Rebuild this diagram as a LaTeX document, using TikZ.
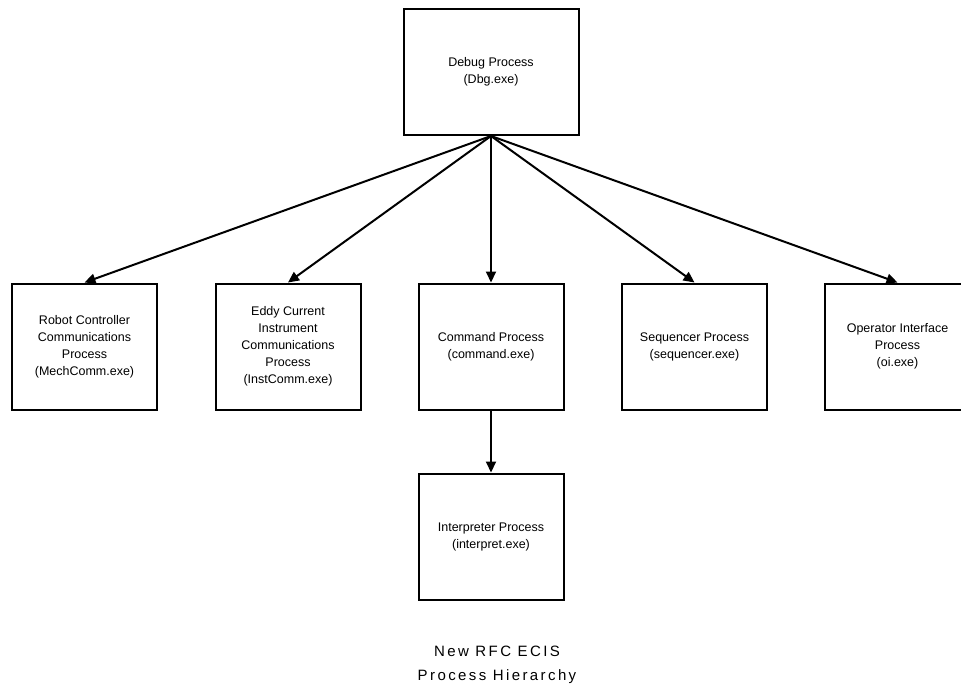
\documentclass[tikz,border=0pt]{standalone}
\usepackage{fontspec}
\setmainfont{Liberation Sans}
\usetikzlibrary{arrows.meta,positioning}

\begin{document}
\begin{tikzpicture}[x=1pt, y=-1pt, >={Triangle[length=11pt,width=10pt]}, line width=2pt]
\useasboundingbox (0,0) rectangle (961,688);
   \begin{scope}[every node/.style={draw,black,align=center,inner sep=0pt,minimum height=126pt,minimum width=145pt,font=\fontsize{12.5}{17}\selectfont}]
\coordinate(d) at (491,72);
\coordinate(r) at (84.5,346.5);
\coordinate(e) at (288,346.5);
\coordinate(c) at (491,346.5);
\coordinate(s) at (694.5,346.5);
\coordinate(o) at (897.5,346.5);
\coordinate(i) at (491,536.5);

\node [minimum width=175pt] (dbg) at (d) {Debug Process\\(Dbg.exe)};
\node (mech) at (r) {Robot Controller\\Communications\\Process\\(MechComm.exe)};
\node (inst) at (e) {Eddy Current\\Instrument\\Communications\\Process\\(InstComm.exe)};
\node (cmd) at (c) {Command Process\\(command.exe)};
\node (seq) at (s) {Sequencer Process\\(sequencer.exe)};
\node (oi) at (o) {Operator Interface\\Process\\(oi.exe)};
\node (intp) at (i) {Interpreter Process\\(interpret.exe)};

\foreach \p in {mech,inst,cmd,seq,oi}
       \draw [->] (dbg.south) -- (\p.north);
\draw [->] (cmd) -- (intp);
  \end{scope}

\node [align=center, font=\fontsize{15}{24}\addfontfeature{LetterSpace=16}\selectfont] (title) at (497,665) {New RFC ECIS\\Process Hierarchy};
\end{tikzpicture}
\end{document}
